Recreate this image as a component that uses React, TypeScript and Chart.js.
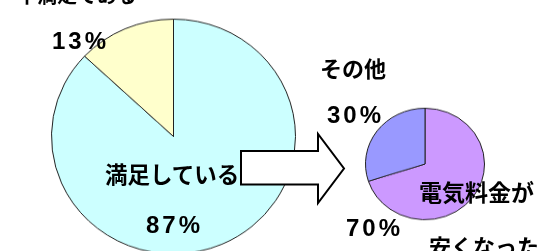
import React, { useEffect, useRef } from "react";
import { Chart, registerables } from "chart.js";

Chart.register(...registerables);

// ---- data ----
const satisfactionLabels = ["満足している", "不満足である"];
const satisfactionValues = [87, 13];
const satisfactionColors = ["#CCFFFF", "#FFFFCC"];

const reasonLabels = ["電気料金が安くなった", "その他"];
const reasonValues = [70, 30];
const reasonColors = ["#CC99FF", "#9999FF"];

const pct = (v: number) => `${v}%`;

type PieProps = {
  labels: string[];
  values: number[];
  colors: string[];
  size: number;
  left: number;
  top: number;
  sy: number;
};

function Pie({ labels, values, colors, size, left, top, sy }: PieProps) {
  const ref = useRef<HTMLCanvasElement>(null);
  useEffect(() => {
    const chart = new Chart(ref.current!, {
      type: "pie",
      data: {
        labels,
        datasets: [
          {
            data: values,
            backgroundColor: colors,
            borderColor: "#222222",
            borderWidth: 1,
          },
        ],
      },
      options: {
        responsive: false,
        animation: false,
        events: [],
        layout: { padding: 0 },
        plugins: { legend: { display: false }, tooltip: { enabled: false } },
      },
    });
    return () => chart.destroy();
  }, []);
  return (
    <div
      style={{
        position: "absolute",
        left,
        top,
        width: size,
        height: size,
        transform: `scaleY(${sy})`,
        transformOrigin: "center center",
      }}
    >
      <canvas
        ref={ref}
        width={size}
        height={size}
        style={{ width: size, height: size, display: "block" }}
      />
    </div>
  );
}

const jp: React.CSSProperties = {
  position: "absolute",
  fontFamily: '"Noto Sans CJK JP", sans-serif',
  fontWeight: 700,
  lineHeight: 1,
  whiteSpace: "nowrap",
  color: "#000",
};

const num: React.CSSProperties = {
  position: "absolute",
  fontFamily: '"Liberation Sans", Arial, sans-serif',
  fontWeight: 700,
  fontSize: 24,
  lineHeight: 1,
  letterSpacing: 3,
  whiteSpace: "nowrap",
  color: "#000",
};

export default function App() {
  return (
    <div
      style={{
        position: "absolute",
        left: 0,
        top: 0,
        width: 543,
        height: 251,
        overflow: "hidden",
        background: "#fff",
      }}
    >
      <Pie
        labels={satisfactionLabels}
        values={satisfactionValues}
        colors={satisfactionColors}
        size={245}
        left={51}
        top={14}
        sy={0.962}
      />
      <Pie
        labels={reasonLabels}
        values={reasonValues}
        colors={reasonColors}
        size={120}
        left={365}
        top={104}
        sy={0.937}
      />
      <svg
        width={543}
        height={251}
        style={{ position: "absolute", left: 0, top: 0 }}
      >
        <polygon
          points="241,151 318,151 318,134 344,168.5 318,203 318,184.5 241,184.5"
          fill="#fff"
          stroke="#000"
          strokeWidth={2}
          strokeLinejoin="miter"
        />
      </svg>

      <div style={{ ...jp, fontSize: 20, left: 17, top: -15 }}>{satisfactionLabels[1]}</div>
      <div style={{ ...num, left: 52, top: 29 }}>{pct(satisfactionValues[1])}</div>
      <div style={{ ...jp, fontSize: 22.5, left: 105, top: 161.5 }}>{satisfactionLabels[0]}</div>
      <div style={{ ...num, left: 146, top: 213 }}>{pct(satisfactionValues[0])}</div>

      <div style={{ ...jp, fontSize: 22, left: 320, top: 56 }}>{reasonLabels[1]}</div>
      <div style={{ ...num, left: 327, top: 103 }}>{pct(reasonValues[1])}</div>
      <div style={{ ...jp, fontSize: 23, left: 419, top: 180 }}>{reasonLabels[0].slice(0, 5)}</div>
      <div style={{ ...jp, fontSize: 22, left: 429, top: 234 }}>{reasonLabels[0].slice(5)}</div>
      <div style={{ ...num, left: 346, top: 216 }}>{pct(reasonValues[0])}</div>
    </div>
  );
}
